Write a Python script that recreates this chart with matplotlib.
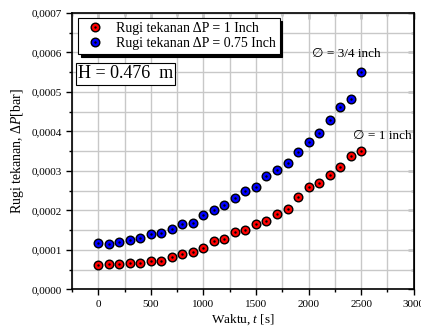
import matplotlib
matplotlib.use("Agg")
import matplotlib.pyplot as plt
from matplotlib.lines import Line2D
from matplotlib.ticker import MultipleLocator, FuncFormatter

plt.rcParams["font.family"] = ["Liberation Serif", "DejaVu Sans"]
plt.rcParams["mathtext.fontset"] = "custom"
plt.rcParams["mathtext.rm"] = "Liberation Serif"
plt.rcParams["mathtext.it"] = "Liberation Serif:italic"

waktu = [0, 100, 200, 300, 400, 500, 600, 700, 800, 900, 1000, 1100, 1200,
         1300, 1400, 1500, 1600, 1700, 1800, 1900, 2000, 2100, 2200, 2300,
         2400, 2500]
rugi_1inch = [0.0000615, 0.000064, 0.000064, 0.0000673, 0.0000673, 0.0000716,
              0.0000716, 0.000081, 0.0000894, 0.000095, 0.000104, 0.0001215,
              0.0001273, 0.000145, 0.000151, 0.000166, 0.0001737, 0.0001914,
              0.000204, 0.000233, 0.000258, 0.000268, 0.000289, 0.00031,
              0.000338, 0.00035]
rugi_075inch = [0.0001165, 0.000114, 0.000119, 0.000124, 0.00013, 0.00014,
                0.000143, 0.000153, 0.000165, 0.000169, 0.000189, 0.0002,
                0.000213, 0.00023, 0.000248, 0.000258, 0.000288, 0.000302,
                0.00032, 0.000348, 0.000373, 0.000395, 0.000429, 0.000462,
                0.000482, 0.000549]

fig = plt.figure(figsize=(4.21, 3.30), dpi=100)
ax = fig.add_axes([0.171, 0.1233, 0.8116, 0.8379])


def titik(x, y, warna):
    ax.plot(x, y, "o", ms=6.2, mfc=warna, mec="black", mew=1.0, ls="none", zorder=3)
    ax.plot(x, y, ".", ms=1.5, color="black", ls="none", zorder=4)


titik(waktu, rugi_1inch, "red")
titik(waktu, rugi_075inch, "blue")

ax.set_xlim(-250, 3000)
ax.set_ylim(0, 0.0007)
ax.xaxis.set_major_locator(MultipleLocator(500))
ax.xaxis.set_minor_locator(MultipleLocator(250))
ax.yaxis.set_major_locator(MultipleLocator(0.0001))
ax.yaxis.set_minor_locator(MultipleLocator(0.00005))
ax.yaxis.set_major_formatter(FuncFormatter(lambda v, p: f"{v:.4f}".replace(".", ",")))
ax.xaxis.set_major_formatter(FuncFormatter(lambda v, p: f"{v:.0f}"))

ax.grid(which="both", color="#c8c8c8", lw=1.0, zorder=0)
ax.set_axisbelow(True)
for s in ax.spines.values():
    s.set_linewidth(1.2)
ax.tick_params(which="both", direction="out", labelsize=8, width=1.0)
ax.tick_params(which="major", length=4)
ax.tick_params(which="minor", length=2.5)

# ticks di sisi atas dan kanan (ke dalam)
atas = ax.secondary_xaxis("top")
atas.xaxis.set_major_locator(MultipleLocator(500))
atas.xaxis.set_minor_locator(MultipleLocator(250))
atas.tick_params(which="both", direction="in", labeltop=False, width=1.0)
atas.tick_params(which="major", length=4)
atas.tick_params(which="minor", length=2.5)
kanan = ax.secondary_yaxis("right")
kanan.yaxis.set_major_locator(MultipleLocator(0.0001))
kanan.yaxis.set_minor_locator(MultipleLocator(0.00005))
kanan.tick_params(which="both", direction="in", labelright=False, width=1.0)
kanan.tick_params(which="major", length=4)
kanan.tick_params(which="minor", length=2.5)

ax.set_xlabel("Waktu, $\\mathit{t}$ [s]", fontsize=9.5, labelpad=3)
ax.set_ylabel("Rugi tekanan, $\\mathit{\\Delta P}$[bar]", fontsize=10, labelpad=4)


def pegangan(warna):
    a = Line2D([], [], marker="o", ms=6.2, mfc=warna, mec="black", mew=1.0, ls="none")
    b = Line2D([], [], marker=".", ms=1.5, color="black", ls="none")
    return (a, b)


leg = ax.legend([pegangan("red"), pegangan("blue")],
                ["Rugi tekanan \u0394P = 1 Inch", "Rugi tekanan \u0394P = 0.75 Inch"],
                loc="upper left", bbox_to_anchor=(0.0176, 0.981), borderaxespad=0,
                fontsize=10, fancybox=False, framealpha=1, edgecolor="black",
                shadow={"color": "black", "alpha": 1}, handletextpad=0.6,
                borderpad=0.3, labelspacing=0.15, handlelength=1.8)
leg.get_frame().set_linewidth(0.8)

ax.text(0.0176, 0.81, "H = 0.476  m", transform=ax.transAxes, fontsize=13,
        va="top", ha="left",
        bbox=dict(boxstyle="square,pad=0.12", fc="white", ec="black", lw=0.8))

ax.text(2033, 0.000596, "\u2205 = 3/4 inch", fontsize=9.5, ha="left", va="center")
ax.text(2422, 0.000388, "\u2205 = 1 inch", fontsize=9.5, ha="left", va="center")

fig.savefig("out.png", dpi=100)
